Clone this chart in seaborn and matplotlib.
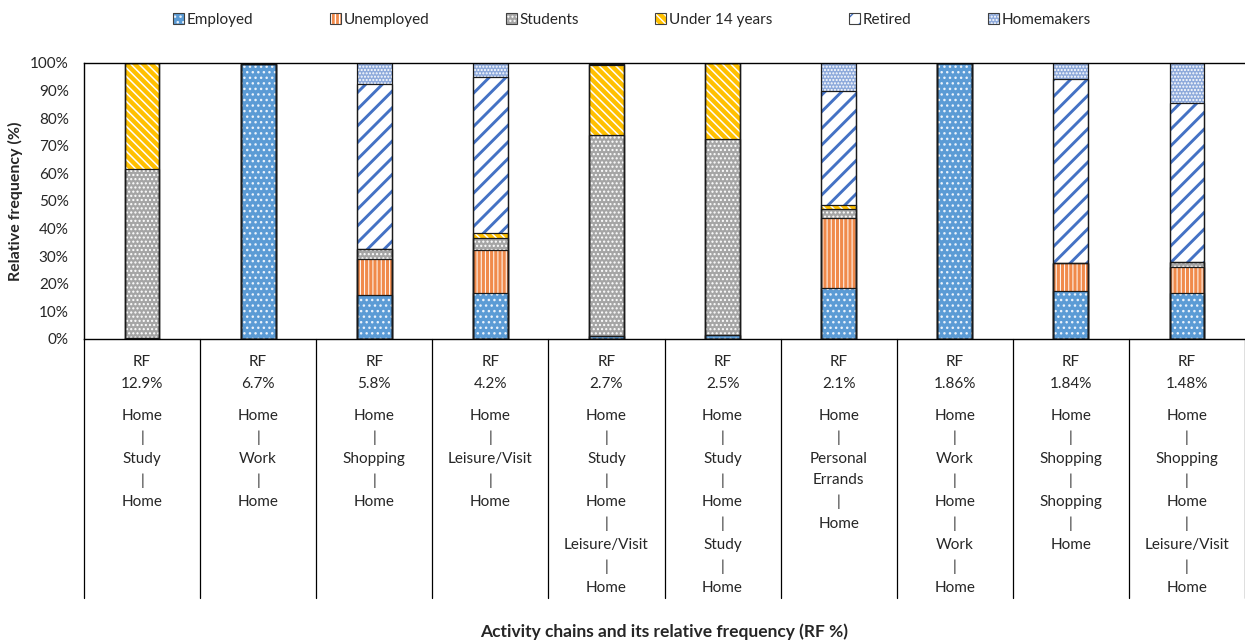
import numpy as np
import pandas as pd
import seaborn as sns
import matplotlib.pyplot as plt
from matplotlib.patches import Patch

# relative frequency of each activity chain (x categories)
rf_labels = ['12.9%', '6.7%', '5.8%', '4.2%', '2.7%', '2.5%', '2.1%', '1.86%', '1.84%', '1.48%']
chains = [
    ['Home', 'Study', 'Home'],
    ['Home', 'Work', 'Home'],
    ['Home', 'Shopping', 'Home'],
    ['Home', 'Leisure/Visit', 'Home'],
    ['Home', 'Study', 'Home', 'Leisure/Visit', 'Home'],
    ['Home', 'Study', 'Home', 'Study', 'Home'],
    ['Home', 'Personal\nErrands', 'Home'],
    ['Home', 'Work', 'Home', 'Work', 'Home'],
    ['Home', 'Shopping', 'Shopping', 'Home'],
    ['Home', 'Shopping', 'Home', 'Leisure/Visit', 'Home'],
]

# share (%) of each group per chain
employed    = [0.5, 99.5, 15.8, 16.7, 1.1, 1.4, 18.4, 100.0, 17.3, 16.8]
unemployed  = [0.0, 0.0, 13.3, 15.4, 0.0, 0.0, 25.3, 0.0, 10.1, 9.4]
students    = [61.1, 0.0, 3.6, 4.6, 72.7, 71.1, 3.4, 0.0, 0.3, 1.7]
under14     = [38.4, 0.0, 0.0, 1.6, 25.4, 27.5, 1.3, 0.0, 0.0, 0.0]
retired     = [0.0, 0.5, 59.6, 56.7, 0.5, 0.0, 41.3, 0.0, 66.6, 57.7]
homemakers  = [0.0, 0.0, 7.7, 5.0, 0.3, 0.0, 10.3, 0.0, 5.7, 14.4]

groups = ['Employed', 'Unemployed', 'Students', 'Under 14 years', 'Retired', 'Homemakers']
values = [employed, unemployed, students, under14, retired, homemakers]

# face colour, hatch colour, hatch pattern, hatch width
styles = {
    'Employed':       ('#5B9BD5', '#EAF2FB', '...', 1.0),
    'Unemployed':     ('#F08A4B', 'white', '||||', 0.7),
    'Students':       ('#A5A5A5', 'white', '....', 1.0),
    'Under 14 years': ('#FFC000', 'white', '\\\\\\\\', 1.1),
    'Retired':        ('white', '#4472C4', '//', 2.1),
    'Homemakers':     ('#8EAADB', 'white', '.....', 1.0),
}

sns.set_theme(style='white')
plt.rcParams['font.family'] = ['Lato', 'DejaVu Sans']

fig = plt.figure(figsize=(12.45, 6.41), dpi=100)
ax = fig.add_axes([84 / 1245, 1 - 339 / 641, 1 - 84 / 1245, 276 / 641])

df = pd.DataFrame({'rf': rf_labels})
cum = np.cumsum(np.array(values), axis=0)

# overdraw cumulative bars from the top group down
for i in range(len(groups) - 1, -1, -1):
    face, hcol, hatch, hlw = styles[groups[i]]
    df['y'] = cum[i]
    with plt.rc_context({'hatch.linewidth': hlw}):
        sns.barplot(data=df, x='rf', y='y', color=face, saturation=1, width=0.3,
                    edgecolor=hcol, linewidth=0, hatch=hatch, errorbar=None, ax=ax)
    for p in ax.containers[-1]:
        if hasattr(p, 'set_hatch_linewidth'):
            p.set_hatch_linewidth(hlw)

# segment outlines
for i in range(len(groups)):
    df['y'] = cum[i]
    sns.barplot(data=df, x='rf', y='y', color='#1a1a1a', fill=False, width=0.3,
                linewidth=0.9, errorbar=None, ax=ax)

ax.set_xlim(-0.5, len(rf_labels) - 0.5)
ax.set_ylim(0, 100)
ax.set_yticks(range(0, 101, 10))
ax.set_yticklabels([f'{v}%' for v in range(0, 101, 10)], fontsize=11)
ax.tick_params(axis='y', length=0, pad=11)
ax.set_xticks([])
ax.set_xlabel('')
ax.set_ylabel('')
for s in ['top', 'left', 'bottom']:
    ax.spines[s].set_color('black')
    ax.spines[s].set_linewidth(1)
ax.spines['right'].set_visible(False)

# category texts and dividers below the axis
trans = ax.get_xaxis_transform()
px = 1 / 276
for k in range(len(rf_labels) + 1):
    ax.plot([k - 0.5, k - 0.5], [0, -259 * px], color='black', lw=0.9,
            transform=trans, clip_on=False)

for k, (rf, chain) in enumerate(zip(rf_labels, chains)):
    ax.text(k, -23 * px, 'RF', ha='center', va='center', fontsize=11, transform=trans)
    ax.text(k, -45 * px, rf, ha='center', va='center', fontsize=11, transform=trans)
    lines = []
    for j, act in enumerate(chain):
        if j > 0:
            lines.append('|')
        lines.extend(act.split('\n'))
    for j, line in enumerate(lines):
        ax.text(k, -(77 + 21.5 * j) * px, line, ha='center', va='center',
                fontsize=11, transform=trans)

fig.text(15 / 1245, 1 - 201 / 641, 'Relative frequency (%)', rotation=90,
         ha='center', va='center', fontsize=11.5, fontweight='bold')
fig.text(664 / 1245, 1 - 632 / 641, 'Activity chains and its relative frequency (RF %)',
         ha='center', va='center', fontsize=12.5, fontweight='bold')

handles = []
for g in groups:
    face, hcol, hatch, hlw = styles[g]
    fillp = Patch(facecolor=face, edgecolor=hcol, hatch=hatch, linewidth=0)
    edgep = Patch(facecolor='none', edgecolor='#404040', linewidth=0.8)
    handles.append((fillp, edgep))
fig.legend(handles, groups, loc='center', bbox_to_anchor=(632 / 1245, 1 - 20 / 641),
           ncol=6, frameon=False, fontsize=11, handlelength=0.7, handleheight=0.7,
           handletextpad=0.2, columnspacing=5.0)

fig.savefig('out.png', dpi=100)
